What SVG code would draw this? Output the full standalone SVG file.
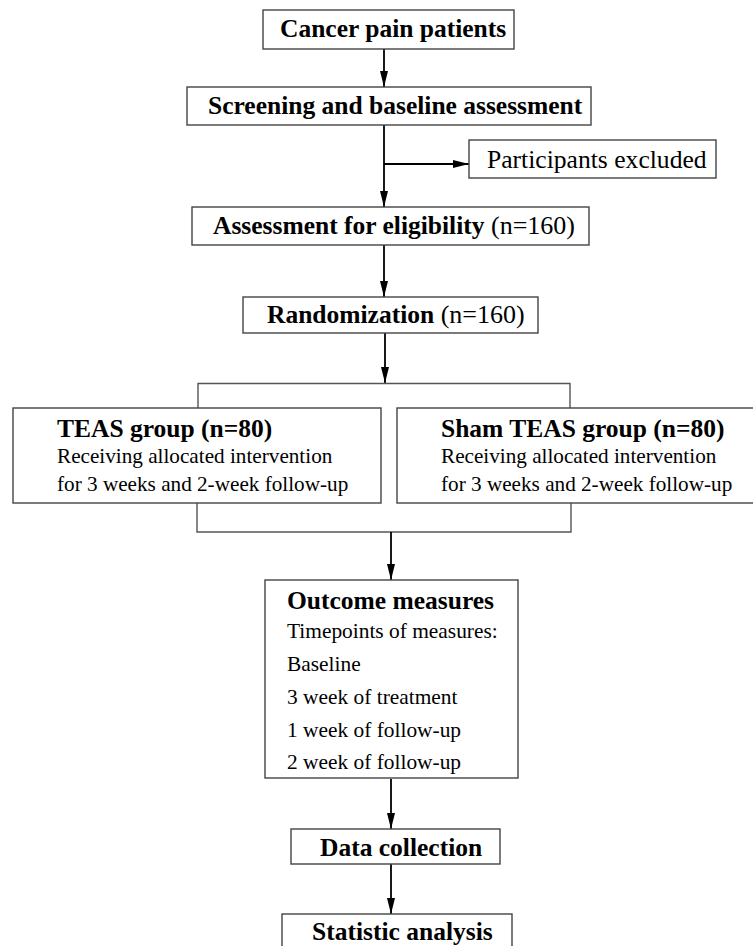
<svg xmlns="http://www.w3.org/2000/svg" width="753" height="946" viewBox="0 0 753 946">
<style>
  .box { fill: #ffffff; stroke: #444444; stroke-width: 1.4; }
  .b { font-family: "Liberation Serif", "Times New Roman", serif; font-weight: bold; font-size: 25.5px; fill: #000; }
  .r { font-family: "Liberation Serif", "Times New Roman", serif; font-weight: normal; fill: #000; }
  .arrow { stroke: #000; stroke-width: 1.8; fill: none; marker-end: url(#ah); }
  .brk { stroke: #555; stroke-width: 1.4; fill: none; }
</style>
<defs>
  <marker id="ah" markerUnits="userSpaceOnUse" markerWidth="16" markerHeight="10" viewBox="0 0 16 10" refX="16" refY="5" orient="auto">
    <path d="M0,1 L16,5 L0,9 Z" fill="#000"/>
  </marker>
</defs>
<rect x="0" y="0" width="753" height="946" fill="#ffffff"/>

<g id="connectors">
  <line class="arrow" x1="384" y1="49" x2="384" y2="87"/>
  <line class="arrow" x1="384" y1="125" x2="384" y2="207"/>
  <line class="arrow" x1="384" y1="164" x2="469" y2="164"/>
  <line class="arrow" x1="384" y1="245" x2="384" y2="297"/>
  <line class="arrow" x1="385" y1="333" x2="385" y2="383"/>
  <polyline class="brk" points="198,408 198,383.5 570,383.5 570,408"/>
  <polyline class="brk" points="197,503 197,532 571,532 571,503"/>
  <line class="arrow" x1="391" y1="532" x2="391" y2="580"/>
  <line class="arrow" x1="391" y1="779" x2="391" y2="829"/>
  <line class="arrow" x1="391" y1="864" x2="391" y2="914"/>
</g>

<g id="cancer">
  <rect class="box" x="263" y="10" width="251" height="39"/>
  <text class="b" x="280" y="37">Cancer pain patients</text>
</g>
<g id="screening">
  <rect class="box" x="187" y="87" width="404" height="38"/>
  <text class="b" x="208" y="114">Screening and baseline assessment</text>
</g>
<g id="excluded">
  <rect class="box" x="469" y="140" width="247" height="38"/>
  <text class="r" x="487" y="168" font-size="25.6">Participants excluded</text>
</g>
<g id="eligibility">
  <rect class="box" x="192" y="207" width="397" height="38"/>
  <text class="b" x="213" y="234">Assessment for eligibility<tspan font-weight="normal" font-size="26"> (n=160)</tspan></text>
</g>
<g id="randomization">
  <rect class="box" x="243" y="297" width="295" height="36"/>
  <text class="b" x="267" y="323">Randomization<tspan font-weight="normal" font-size="26"> (n=160)</tspan></text>
</g>
<g id="teas">
  <rect class="box" x="13" y="408" width="368" height="95"/>
  <text class="b" x="57" y="437" font-size="24.7">TEAS group (n=80)</text>
  <text class="r" x="57" y="463" font-size="21.2">Receiving allocated intervention</text>
  <text class="r" x="57" y="490.5" font-size="21.2">for 3 weeks and 2-week follow-up</text>
</g>
<g id="sham">
  <rect class="box" x="397" y="408" width="362" height="95"/>
  <text class="b" x="441" y="437" font-size="24.7">Sham TEAS group (n=80)</text>
  <text class="r" x="441" y="463" font-size="21.2">Receiving allocated intervention</text>
  <text class="r" x="441" y="490.5" font-size="21.2">for 3 weeks and 2-week follow-up</text>
</g>
<g id="outcome">
  <rect class="box" x="265" y="580" width="253" height="198"/>
  <text class="b" x="287" y="609">Outcome measures</text>
  <text class="r" x="287" y="638" font-size="21.4">Timepoints of measures:</text>
  <text class="r" x="287" y="671" font-size="21.4">Baseline</text>
  <text class="r" x="287" y="704" font-size="21.4">3 week of treatment</text>
  <text class="r" x="287" y="737" font-size="21.4">1 week of follow-up</text>
  <text class="r" x="287" y="769" font-size="21.4">2 week of follow-up</text>
</g>
<g id="data">
  <rect class="box" x="291" y="829" width="209" height="35"/>
  <text class="b" x="320" y="856">Data collection</text>
</g>
<g id="statistic">
  <rect class="box" x="282" y="914" width="230" height="40"/>
  <text class="b" x="312" y="940">Statistic analysis</text>
</g>
</svg>
